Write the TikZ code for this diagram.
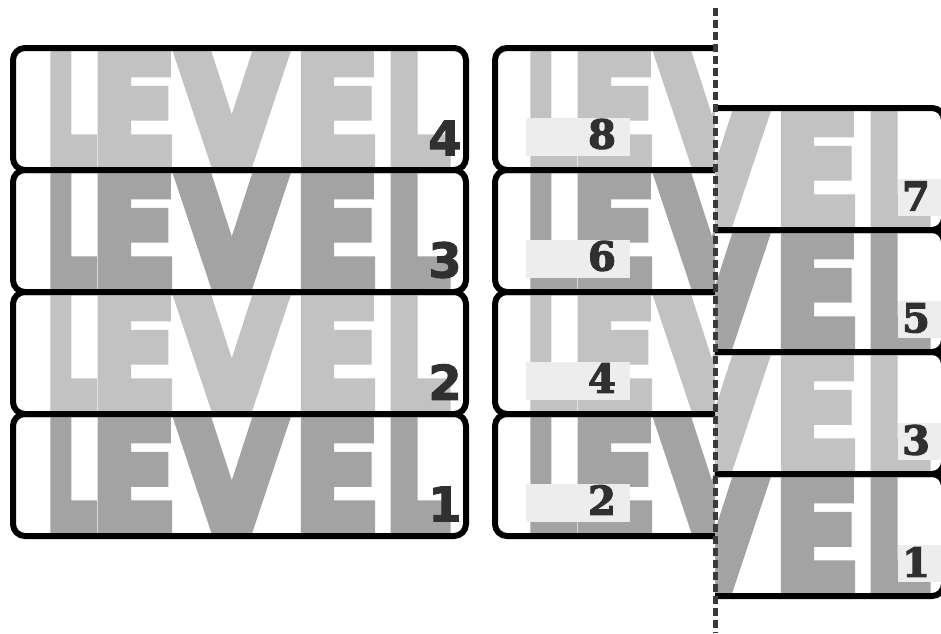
\documentclass[tikz,border=0pt]{standalone}
\usepackage{fontspec}
\usepackage{graphicx}
\usepackage{xcolor}
\usepackage{tikz}
\newfontfamily\wordfont{DejaVu Sans}[BoldFeatures={FakeBold=8}]
\newfontfamily\numfont{DejaVu Sans}[BoldFeatures={FakeBold=2}]
\newfontfamily\slabfont{DejaVu Serif}[BoldFeatures={FakeBold=3}]
\definecolor{lvlight}{HTML}{C2C2C2}
\definecolor{lvdark}{HTML}{A3A3A3}
\definecolor{tagfill}{HTML}{EDEDED}
\definecolor{digitgrey}{HTML}{303030}
\definecolor{cutgrey}{HTML}{3A3A3A}
% the word, each letter stretched to the width it has in the sign
\newcommand\levelword{\wordfont\bfseries
  \resizebox{50pt}{114pt}{L}\kern-5pt
  \resizebox{85pt}{114pt}{E}\kern1pt
  \resizebox{109pt}{114pt}{V}\kern8pt
  \resizebox{85pt}{114pt}{E}\kern6pt
  \resizebox{64pt}{114pt}{L}}

\begin{document}
\begin{tikzpicture}[x=1pt, y=-1pt,
  frame/.style={line width=6pt, rounded corners=12pt},
  word/.style={anchor=south west, inner sep=0pt},
  tag/.style={fill=tagfill, minimum width=104pt, minimum height=38pt, inner sep=0pt},
  sidetag/.style={fill=tagfill, minimum width=48pt, minimum height=37pt, inner sep=0pt, anchor=west},
  bignum/.style={text=digitgrey, font=\numfont\bfseries\fontsize{48}{48}\selectfont, inner sep=0pt},
  slabnum/.style={text=digitgrey, font=\slabfont\bfseries\fontsize{40}{40}\selectfont, inner sep=0pt},
  cut/.style={draw=cutgrey, line width=5pt, dash pattern=on 8pt off 4pt}
]
  \useasboundingbox (0,0) rectangle (941,633);

  % left column: whole words
  \foreach \t/\c/\n in {48/lvlight/4, 170/lvdark/3, 292/lvlight/2, 414/lvdark/1} {
    \begin{scope}
      \clip (13,\t) rectangle (466,\t+122);
      \node[word, text=\c] (wl\n) at (46,\t+115) {\levelword};
    \end{scope}
    \node[bignum] (nl\n) at (445,\t+90) {\n};
    \draw[frame] (13,\t) rectangle (466,\t+122);
  }

  % middle column: left halves
  \foreach \t/\c/\n in {48/lvlight/8, 170/lvdark/6, 292/lvlight/4, 414/lvdark/2} {
    \begin{scope}
      \clip (495,\t) rectangle (715,\t+122);
      \node[word, text=\c] (wm\n) at (526,\t+115) {\levelword};
    \end{scope}
    \node[tag] (tm\n) at (578,\t+89) {};
    \node[slabnum] (nm\n) at ([xshift=24pt, yshift=3pt]tm\n.center) {\n};
    \draw[frame] (715,\t) -- (495,\t) -- (495,\t+122) -- (715,\t+122);
  }

  % right column: right halves, half a row lower
  \foreach \t/\c/\n in {108/lvlight/7, 230/lvdark/5, 352/lvlight/3, 474/lvdark/1} {
    \begin{scope}
      \clip (715,\t) rectangle (941,\t+122);
      \node[word, text=\c] (wr\n) at (526,\t+115) {\levelword};
    \end{scope}
    \node[sidetag] (tr\n) at (898,\t+89) {};
    \node[slabnum] (nr\n) at ([xshift=18pt, yshift=1pt]tr\n.west) {\n};
    \draw[frame] (715,\t) -- (944,\t) -- (944,\t+122) -- (715,\t+122);
  }

  % cut line
  \coordinate (cuttop) at (715,8);
  \coordinate (cutbot) at (715,633);
  \draw[cut] (cuttop) -- (cutbot);
\end{tikzpicture}
\end{document}
